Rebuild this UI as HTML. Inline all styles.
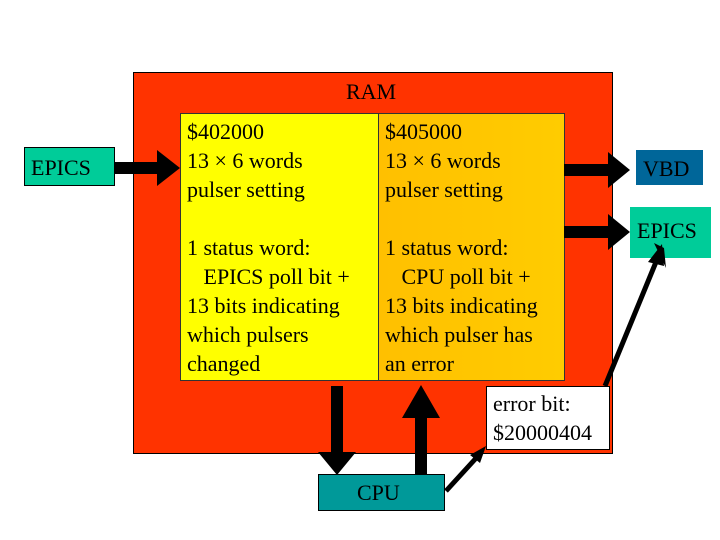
<!DOCTYPE html>
<html><head><style>
body{margin:0;width:720px;height:540px;background:#fff;position:relative;overflow:hidden;font-family:"Liberation Serif",serif;}
.b{position:absolute;box-sizing:border-box;}
.t{position:absolute;font-size:22px;line-height:29px;color:#000;white-space:pre;}
</style></head><body>
<div class="b" style="left:133px;top:72px;width:480px;height:382px;background:#ff3300;border:1px solid #000"></div>
<div class="t" style="left:346px;top:77px">RAM</div>
<div class="b" style="left:180px;top:113px;width:199px;height:268px;background:#ffff00;border:1px solid #333"></div>
<div class="b" style="left:378px;top:113px;width:187px;height:268px;background:linear-gradient(90deg,#ffc000,#ffcc00);border:1px solid #333"></div>
<div class="t" style="left:187px;top:117px">$402000
13 × 6 words
pulser setting

1 status word:
   EPICS poll bit +
13 bits indicating
which pulsers
changed</div>
<div class="t" style="left:385px;top:117px">$405000
13 × 6 words
pulser setting

1 status word:
   CPU poll bit +
13 bits indicating
which pulser has
an error</div>
<div class="b" style="left:24px;top:147px;width:91px;height:39px;background:#00cc99;border:1px solid #000"></div>
<div class="t" style="left:31px;top:153px">EPICS</div>
<div class="b" style="left:636px;top:150px;width:67px;height:35px;background:#006699"></div>
<div class="t" style="left:643px;top:154px">VBD</div>
<div class="b" style="left:630px;top:207px;width:81px;height:51px;background:#00cc99"></div>
<div class="t" style="left:637px;top:216px">EPICS</div>
<div class="b" style="left:318px;top:474px;width:127px;height:37px;background:#009999;border:1px solid #000"></div>
<div class="t" style="left:357px;top:478px">CPU</div>
<div class="b" style="left:486px;top:386px;width:124px;height:64px;background:#fff;border:1px solid #000"></div>
<div class="t" style="left:493px;top:389px">error bit:
$20000404</div>
<svg width="720" height="540" style="position:absolute;left:0;top:0">
<g fill="#000">
<rect x="114" y="162" width="44" height="12"/><polygon points="157,150 180,168 157,186"/>
<rect x="564" y="164" width="46" height="12"/><polygon points="608,152 630,170 608,188"/>
<rect x="564" y="226" width="46" height="12"/><polygon points="608,214 630,232 608,250"/>
<rect x="331" y="386" width="12" height="68"/><polygon points="318,452 356,452 337,475"/>
<rect x="415" y="415" width="12" height="59"/><polygon points="402,418 440,418 421,385"/>
<polygon points="654,243 664,248 666,268"/>
</g>
<line x1="446" y1="491" x2="478" y2="456" stroke="#000" stroke-width="5"/>
<polygon points="486,446 470,455 480,463" fill="#000"/>
<line x1="605" y1="386" x2="656" y2="262" stroke="#000" stroke-width="5"/>
<polygon points="662,244 648,262 664,266" fill="#000"/>
</svg>
</body></html>
